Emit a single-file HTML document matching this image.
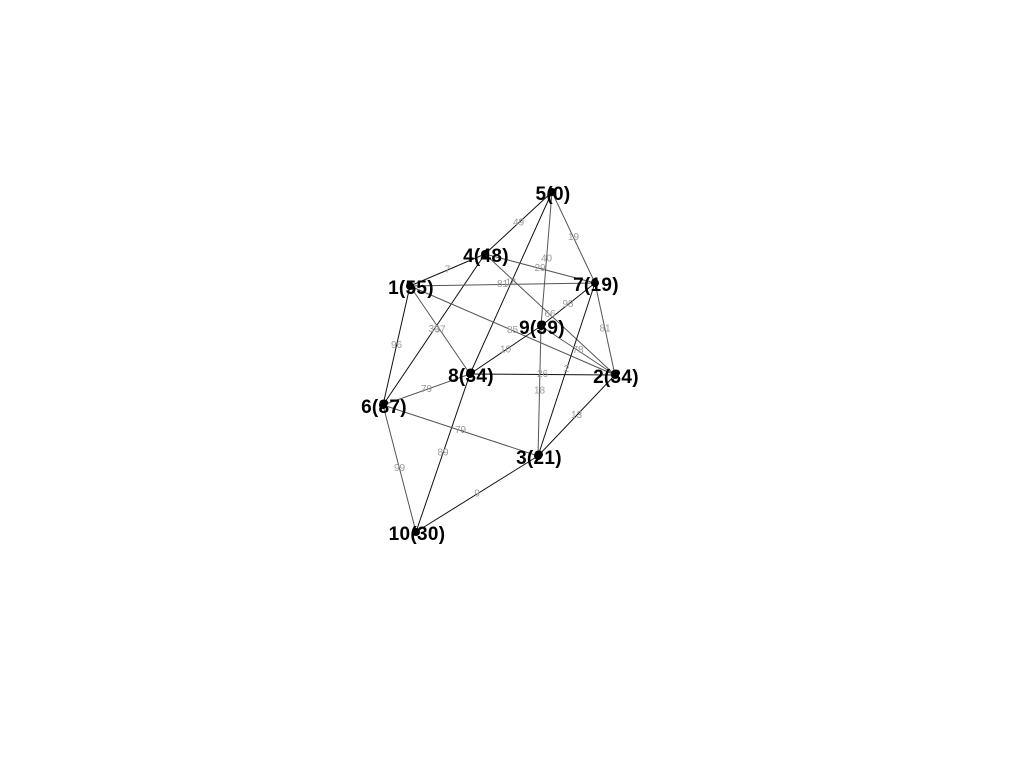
<!DOCTYPE html>
<html><head><meta charset="utf-8"><style>
body{margin:0;background:#fff;width:1024px;height:768px;overflow:hidden}
svg{display:block}
.nl{font-family:"Liberation Sans",sans-serif;font-weight:bold;font-size:19px;fill:#000;text-anchor:middle;letter-spacing:0.3px}
.el{font-family:"Liberation Sans",sans-serif;font-size:10px;fill:#9a9a9a;text-anchor:middle;dominant-baseline:middle}
</style></head><body>
<svg id="chart" width="1024" height="768"></svg>
<script>
const nodeIds=[1,2,3,4,5,6,7,8,9,10];
const nodeValues=[55,34,21,48,0,87,19,34,39,30];
const nodeX=[410,615,538,485,552,383,595,470,541,416];
const nodeY=[286,375,456,254,192,405,283,374,326,532];
const edgeFrom=[5,5,5,5,4,4,4,4,1,1,1,1,7,7,7,9,9,9,8,8,8,6,6,3,3];
const edgeTo=[4,7,9,8,1,7,6,2,7,2,8,6,9,2,3,8,2,3,2,6,10,3,10,10,2];
const edgeWeights=[49,19,40,14,7,29,39,66,81,85,37,96,98,81,2,10,78,18,26,79,89,79,99,9,13];
const edgeDark=[1,0,0,1,1,0,1,0,0,0,0,1,1,0,1,1,0,0,1,0,1,0,0,1,1];
const svg=document.getElementById('chart');
const NS='http://www.w3.org/2000/svg';
function px(id){return nodeX[nodeIds.indexOf(id)];}
function py(id){return nodeY[nodeIds.indexOf(id)];}
edgeFrom.forEach((f,i)=>{
  const t=edgeTo[i];
  const l=document.createElementNS(NS,'line');
  l.setAttribute('x1',px(f));l.setAttribute('y1',py(f));
  l.setAttribute('x2',px(t));l.setAttribute('y2',py(t));
  l.setAttribute('stroke',edgeDark[i]?'#111':'#555');
  l.setAttribute('stroke-width','1');
  
  
  svg.appendChild(l);
});
edgeFrom.forEach((f,i)=>{
  const t=edgeTo[i];
  const tx=document.createElementNS(NS,'text');
  tx.setAttribute('class','el');
  tx.setAttribute('x',(px(f)+px(t))/2);
  tx.setAttribute('y',(py(f)+py(t))/2);
  tx.textContent=edgeWeights[i];
  
  
  svg.appendChild(tx);
});
nodeIds.forEach((id,i)=>{
  const c=document.createElementNS(NS,'circle');
  c.setAttribute('cx',nodeX[i]);c.setAttribute('cy',nodeY[i]);c.setAttribute('r',4);
  c.setAttribute('fill','#000');
  
  
  svg.appendChild(c);
  const tx=document.createElementNS(NS,'text');
  tx.setAttribute('class','nl');
  tx.setAttribute('x',nodeX[i]+1);
  tx.setAttribute('y',nodeY[i]+8);
  tx.textContent=id+'('+nodeValues[i]+')';
  
  
  svg.appendChild(tx);
});
</script>
</body></html>
